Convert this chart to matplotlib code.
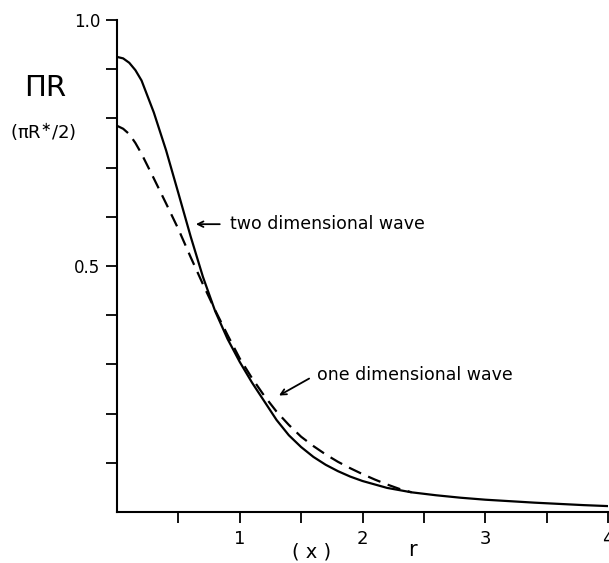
import matplotlib
matplotlib.use("Agg")
import matplotlib.pyplot as plt
import numpy as np

# curves
r_two = [0, 0.05, 0.1, 0.15, 0.2, 0.3, 0.4, 0.5, 0.6, 0.7, 0.8, 0.9, 1.0,
         1.1, 1.2, 1.3, 1.4, 1.5, 1.6, 1.7, 1.8, 1.9, 2.0, 2.2, 2.4, 2.6,
         2.8, 3.0, 3.4, 3.8, 4.0]
R_two = [0.925, 0.922, 0.913, 0.898, 0.877, 0.812, 0.735, 0.648, 0.56, 0.478,
         0.408, 0.352, 0.305, 0.263, 0.225, 0.187, 0.156, 0.132, 0.112, 0.096,
         0.083, 0.072, 0.063, 0.049, 0.040, 0.034, 0.029, 0.025, 0.019, 0.014,
         0.012]

r_one = [0, 0.05, 0.1, 0.15, 0.2, 0.3, 0.4, 0.5, 0.6, 0.7, 0.8, 0.9, 1.0,
         1.1, 1.2, 1.3, 1.4, 1.5, 1.6, 1.7, 1.8, 1.9, 2.0, 2.1, 2.2, 2.3, 2.4]
R_one = [0.785, 0.779, 0.768, 0.75, 0.728, 0.678, 0.627, 0.575, 0.518, 0.463,
         0.41, 0.36, 0.312, 0.272, 0.236, 0.204, 0.177, 0.153, 0.134, 0.117,
         0.102, 0.089, 0.077, 0.066, 0.056, 0.047, 0.040]

W, H = 609, 563
fig = plt.figure(figsize=(W / 100, H / 100), dpi=100)
ax = fig.add_axes([117 / W, (H - 512) / H, 491 / W, 492 / H])

ax.plot(r_two, R_two, color="black", lw=1.6, solid_joinstyle="round")
ax.plot(r_one, R_one, color="black", lw=1.6, dashes=(6, 3.5))

ax.set_xlim(0, 4)
ax.set_ylim(0, 1.0)
for s in ["top", "right"]:
    ax.spines[s].set_visible(False)
for s in ["left", "bottom"]:
    ax.spines[s].set_linewidth(1.5)

ax.set_yticks([0.5, 1.0])
ax.set_yticklabels(["0.5", "1.0"])
ax.set_yticks(np.arange(0.1, 1.0, 0.1), minor=True)
ax.set_xticks([1, 2, 3, 4])
ax.set_xticklabels(["1", "2", "3", "4"])
ax.set_xticks([0.5, 1.5, 2.5, 3.5], minor=True)
ax.tick_params(which="both", direction="out", width=1.3, length=8)
ax.tick_params(axis="y", labelsize=12, pad=4)
ax.tick_params(axis="x", labelsize=13, pad=5)

ax.annotate("", xy=(0.62, 0.585), xytext=(0.86, 0.585),
            arrowprops=dict(arrowstyle="->", color="black", lw=1.3))
ax.text(0.92, 0.585, "two dimensional wave", fontsize=12.5, va="center")

ax.annotate("", xy=(1.30, 0.234), xytext=(1.585, 0.274),
            arrowprops=dict(arrowstyle="->", color="black", lw=1.3))
ax.text(1.63, 0.278, "one dimensional wave", fontsize=12.5, va="center")

fig.text(45 / W, 1 - 88 / H, "ΠR", fontsize=21, ha="center", va="center")
fig.text(43 / W, 1 - 132 / H, "(πR$^{\\ast}$/2)", fontsize=13,
         ha="center", va="center")
fig.text(312 / W, 1 - 552 / H, "( x )", fontsize=14, ha="center", va="center")
fig.text(412 / W, 1 - 550 / H, "r", fontsize=15, ha="center", va="center")

fig.savefig("out.png", dpi=100)
